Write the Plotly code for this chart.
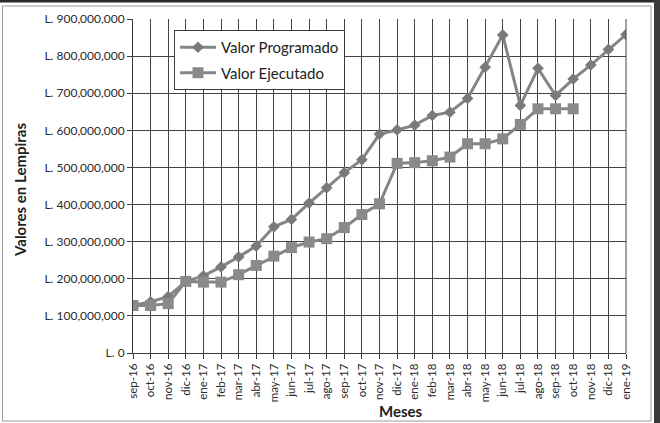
import plotly.graph_objects as go

# Month labels (Spanish abbreviations)
meses = [
    "sep-16", "oct-16", "nov-16", "dic-16",
    "ene-17", "feb-17", "mar-17", "abr-17", "may-17", "jun-17",
    "jul-17", "ago-17", "sep-17", "oct-17", "nov-17", "dic-17",
    "ene-18", "feb-18", "mar-18", "abr-18", "may-18", "jun-18",
    "jul-18", "ago-18", "sep-18", "oct-18", "nov-18", "dic-18",
    "ene-19",
]

# Planned amounts (Lempiras)
valor_programado = [
    128e6, 138e6, 152e6, 193e6,
    208e6, 232e6, 259e6, 288e6, 340e6, 360e6,
    404e6, 445e6, 486e6, 521e6, 590e6, 601e6,
    614e6, 640e6, 649e6, 686e6, 770e6, 857e6,
    667e6, 767e6, 694e6, 738e6, 776e6, 818e6,
    858e6,
]

# Executed amounts (Lempiras), reported up to oct-18
valor_ejecutado = [
    128e6, 128e6, 133e6, 193e6,
    191e6, 191e6, 211e6, 236e6, 261e6, 284e6,
    299e6, 308e6, 338e6, 373e6, 402e6, 511e6,
    513e6, 518e6, 528e6, 564e6, 564e6, 577e6,
    616e6, 658e6, 658e6, 658e6,
]

y_ticks = [i * 100_000_000 for i in range(10)]
y_tick_text = ["L. 0"] + [f"L. {v:,}" for v in y_ticks[1:]]

FONT = "Lato, 'Open Sans', sans-serif"
LINE_GRAY = "#858585"
GRID = "#444444"

fig = go.Figure()

fig.add_trace(go.Scatter(
    x=meses, y=valor_programado, name="Valor Programado",
    mode="lines+markers",
    line=dict(color=LINE_GRAY, width=3),
    marker=dict(symbol="diamond", size=9, color="#7a7a7a"),
    legendgroup="a",
))
fig.add_trace(go.Scatter(
    x=meses[:len(valor_ejecutado)], y=valor_ejecutado, name="Valor Ejecutado",
    mode="lines+markers",
    line=dict(color=LINE_GRAY, width=3),
    marker=dict(symbol="square", size=11, color="#8a8a8a"),
    legendgroup="b",
))

W, H = 660, 423
L, R, T, B = 133, 34, 19, 70
pw, ph = W - L - R, H - T - B


def px(xp):
    return (xp - L) / pw


def py(yp):
    return (H - B - yp) / ph


fig.update_layout(
    width=W, height=H,
    margin=dict(l=L, r=R, t=T, b=B),
    paper_bgcolor="white",
    plot_bgcolor="white",
    font=dict(family=FONT, color="#2a2a2a", size=11),
    showlegend=True,
    legend=dict(
        x=px(174), y=py(30), xanchor="left", yanchor="top",
        bordercolor="#3a3a3a", borderwidth=1, bgcolor="white",
        font=dict(size=15, color="#222"),
        traceorder="grouped", tracegroupgap=3,
        itemwidth=36,
    ),
    xaxis=dict(
        type="category",
        range=[0, len(meses) - 1],
        tickangle=-90,
        showgrid=True, gridcolor=GRID, gridwidth=1,
        showline=True, linecolor="#3a3a3a", linewidth=1,
        ticks="outside", ticklen=5, tickcolor="#3a3a3a",
        tickfont=dict(size=11.5),
        mirror=False,
    ),
    yaxis=dict(
        range=[0, 900_000_000],
        tickvals=y_ticks, ticktext=y_tick_text,
        showgrid=True, gridcolor=GRID, gridwidth=1,
        showline=True, linecolor="#3a3a3a", linewidth=1,
        ticks="outside", ticklen=5, tickcolor="#3a3a3a",
        tickfont=dict(size=12),
        zeroline=False,
    ),
    annotations=[
        dict(text="<b>Valores en Lempiras</b>", textangle=-90,
             xref="paper", yref="paper", x=px(20), y=py(190),
             xanchor="center", yanchor="middle", showarrow=False,
             font=dict(size=15, color="#222")),
        dict(text="<b>Meses</b>",
             xref="paper", yref="paper", x=px(401), y=py(411),
             xanchor="center", yanchor="middle", showarrow=False,
             font=dict(size=15, color="#222")),
    ],
    shapes=[
        # right border of the plot area
        dict(type="line", xref="paper", yref="paper", x0=1, x1=1, y0=0, y1=1,
             line=dict(color=GRID, width=1)),
        # chart frame
        dict(type="rect", xref="paper", yref="paper",
             x0=px(2.5), x1=px(651), y0=py(421), y1=py(6),
             line=dict(color="#9a9a9a", width=1)),
        # dark edge along the top
        dict(type="rect", xref="paper", yref="paper",
             x0=px(0), x1=px(660), y0=py(2.5), y1=py(0),
             fillcolor="#2a2a2a", line=dict(width=0)),
        # dark edge along the right
        dict(type="rect", xref="paper", yref="paper",
             x0=px(654), x1=px(660), y0=py(423), y1=py(0),
             fillcolor="#3a3a3a", line=dict(width=0)),
    ],
)

fig.write_html("out.html")
